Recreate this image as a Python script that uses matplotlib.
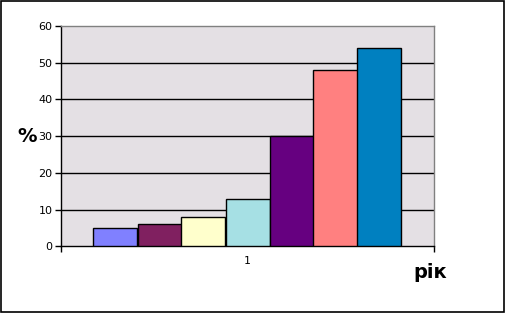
import matplotlib.pyplot as plt
from matplotlib.patches import Rectangle

categories = ["1"]
values = [5, 6, 8, 13, 30, 48, 54]
colors = ["#8080FF", "#802060", "#FFFFCC", "#A6E0E4", "#660080", "#FF8080", "#0080C0"]
yticks = [0, 10, 20, 30, 40, 50, 60]

fig = plt.figure(figsize=(5.05, 3.13), dpi=100)
fig.patch.set_facecolor("white")
fig.add_artist(Rectangle((0.001, 0.002), 0.997, 0.996, transform=fig.transFigure,
                         fill=False, edgecolor="black", linewidth=1.2))

ax = fig.add_axes([61 / 505, 1 - 246.3 / 313, 373 / 505, 220.3 / 313])
ax.set_facecolor("#E4E0E4")

n = len(values)
bar_w = 44 / 373
start = 1 - n * bar_w / 2
for i, (v, c) in enumerate(zip(values, colors)):
    ax.bar(start + (i + 0.5) * bar_w, v, width=bar_w, color=c,
           edgecolor="black", linewidth=1, zorder=3)

ax.set_xlim(0.5, 1.5)
ax.set_ylim(0, 60)
ax.set_yticks(yticks)
ax.set_yticklabels([str(t) for t in yticks], fontsize=8)
for t in yticks[1:-1]:
    ax.axhline(t, color="black", linewidth=1, zorder=1)

ax.set_xticks([0.5, 1.5])
ax.set_xticklabels([])
ax.set_xticks([1], minor=True)
ax.set_xticklabels(categories, minor=True, fontsize=8, family="DejaVu Sans Mono")
ax.tick_params(axis="x", which="minor", length=0, pad=7)
ax.tick_params(axis="x", which="major", length=4, direction="out", width=1)
ax.tick_params(axis="y", length=4, direction="out", width=1, pad=2)

ax.spines["left"].set_color("black")
ax.spines["bottom"].set_color("black")
ax.spines["top"].set_color("#808080")
ax.spines["right"].set_color("#808080")
for s in ax.spines.values():
    s.set_linewidth(1)

fig.text(27 / 505, 1 - 136 / 313, "%", fontsize=14, fontweight="bold",
         ha="center", va="center")
fig.text(430 / 505, 1 - 273 / 313, "рік", fontsize=14, fontweight="bold",
         ha="center", va="center")

fig.savefig("out.png", dpi=100)
